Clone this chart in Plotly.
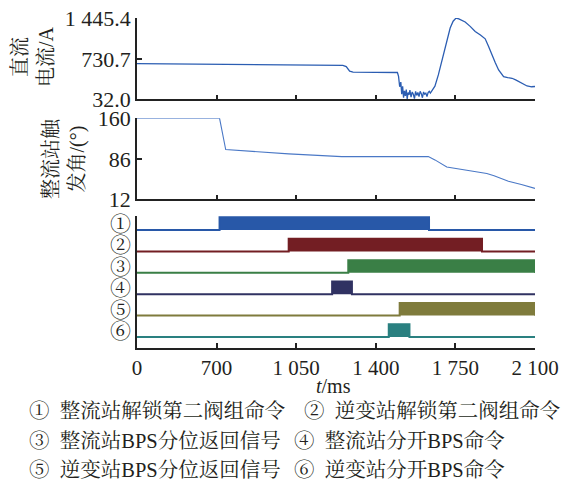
import plotly.graph_objects as go

# ---------------- data ----------------
# DC current (top panel), time in ms, value in A
cur_t = [0, 700, 1050, 1255, 1270, 1285, 1300, 1400, 1495,
         1500, 1505, 1510, 1514, 1518, 1522, 1526, 1530, 1534, 1538, 1542, 1546, 1550,
         1555, 1560, 1565, 1570, 1575, 1580, 1585, 1590, 1595, 1600, 1605, 1610, 1615,
         1620, 1625, 1630, 1635, 1640, 1646,
         1660, 1675, 1690, 1704, 1715, 1727, 1740, 1753, 1765, 1793, 1815, 1837, 1860,
         1881, 1895, 1910, 1925, 1940, 1962, 1980, 1999, 2015, 2028, 2045, 2065, 2085, 2100]
cur_v = [652, 645, 635, 622, 600, 520, 505, 500, 498,
         430, 250, 330, 120, 260, 60, 180, 90, 200, 40, 150, 110, 190,
         70, 160, 120, 45, 170, 100, 150, 80, 170, 130, 60, 160, 120,
         140, 80, 150, 170, 140, 180,
         260, 456, 688, 922, 1100, 1271, 1390, 1445, 1430, 1376, 1300, 1212, 1150,
         1084, 960, 805, 670, 543, 426, 410, 398, 370, 339, 300, 264, 250, 255]

# rectifier firing angle (middle panel), degrees
ang_t = [0, 713, 740, 1017, 1250, 1631, 1660, 1690, 1712, 1800, 1888, 1920, 1983, 2040, 2100]
ang_v = [160, 160, 103, 95, 90, 90, 84, 76, 71, 65, 59, 55, 45, 39, 32]

# signals (bottom panel)
sig_labels = ["①", "②", "③", "④", "⑤", "⑥"]
sig_start = [713, 1017, 1279, 1208, 1505, 1457]
sig_end = [1634, 1867, 2100, 1295, 2100, 1548]
sig_colors = ["#2858a8", "#731e23", "#3a7f46", "#303262", "#7f7b3c", "#2a8080"]

legend_items = ["整流站解锁第二阀组命令", "逆变站解锁第二阀组命令",
                "整流站BPS分位返回信号", "整流站分开BPS命令",
                "逆变站BPS分位返回信号", "逆变站分开BPS命令"]

x_tickvals_ms = [0, 700, 1050, 1400, 1750, 2100]
x_ticktext = ["0", "700", "1 050", "1 400", "1 750", "2 100"]

y1_ticks = [32.0, 730.7, 1445.4]
y1_text = ["32.0", "730.7", "1 445.4"]
y2_ticks = [12, 86, 160]


# the first axis segment (0-700 ms) is drawn at half scale in the original
def T(t):
    return t if t >= 700 else 350 + t / 2.0


FONT = "Liberation Serif, 'Noto Serif CJK SC', 'Noto Sans CJK SC', serif"
TXT = "#231f20"

fig = go.Figure()

fig.add_trace(go.Scatter(x=[T(t) for t in cur_t], y=cur_v, mode="lines",
                         line=dict(color="#2b5db2", width=1.3),
                         xaxis="x", yaxis="y", showlegend=False))
fig.add_trace(go.Scatter(x=[T(t) for t in ang_t], y=ang_v, mode="lines",
                         line=dict(color="#4a78c6", width=1.1),
                         xaxis="x2", yaxis="y2", showlegend=False))

H = 0.59
n = len(sig_labels)
row_base = []
for i in range(n):
    b = n - 1 - i
    row_base.append(b)
    s, e = sig_start[i], sig_end[i]
    xs = [T(0), T(s), T(s), T(e), T(e), T(2100)]
    ys = [b, b, b + H, b + H, b, b]
    fig.add_trace(go.Scatter(x=xs, y=ys, mode="lines", fill="toself",
                             fillcolor=sig_colors[i],
                             line=dict(color=sig_colors[i], width=2),
                             xaxis="x3", yaxis="y3", showlegend=False))

xtv = [T(t) for t in x_tickvals_ms]
xcommon = dict(range=[350, 2100], tickvals=xtv, ticktext=x_ticktext,
               ticks="inside", ticklen=5, tickwidth=1.5, tickcolor="#222",
               showline=True, linecolor="#222", linewidth=1.5,
               showgrid=False, zeroline=False, domain=[0, 1], automargin=False)
ycommon = dict(ticks="inside", ticklen=5, tickwidth=1.5, tickcolor="#222",
               showline=True, linecolor="#222", linewidth=1.5,
               showgrid=False, zeroline=False, automargin=False,
               tickfont=dict(size=22, color=TXT, family=FONT))

fig.update_layout(
    width=566, height=482,
    margin=dict(l=137, r=31, t=18, b=134),
    paper_bgcolor="white", plot_bgcolor="white",
    font=dict(family=FONT, size=20, color=TXT),
    hovermode=False,
    xaxis=dict(**xcommon, anchor="y", showticklabels=False),
    xaxis2=dict(**xcommon, anchor="y2", showticklabels=False),
    xaxis3=dict(**xcommon, anchor="y3", showticklabels=True,
                ticklabeloverflow="allow",
                tickfont=dict(size=21, color=TXT, family=FONT)),
    yaxis=dict(**ycommon, domain=[0.7536, 1.0], range=[32.0, 1445.4],
               tickvals=y1_ticks, ticktext=y1_text, anchor="x"),
    yaxis2=dict(**ycommon, domain=[0.4506, 0.6961], range=[12, 160],
                tickvals=y2_ticks, anchor="x2"),
    yaxis3=dict(showline=True, linecolor="#222", linewidth=1.5, showgrid=False,
                zeroline=False, ticks="", domain=[0, 0.4], automargin=False,
                range=[-0.514, 5.654],
                tickvals=[b + 0.3 for b in row_base], ticktext=sig_labels,
                tickfont=dict(size=21, color=TXT, family=FONT), anchor="x3"),
)


def px_x(px):
    return (px - 137) / 398.0


def px_y(py):
    return (348 - py) / 330.0


ann = []
ann.append(dict(text="直流<br>电流/A", textangle=-90, xref="paper", yref="paper",
                x=px_x(33), y=px_y(56), xanchor="center", yanchor="middle",
                showarrow=False, font=dict(size=20, color=TXT, family=FONT)))
ann.append(dict(text="整流站触<br>发角/(°)", textangle=-90, xref="paper", yref="paper",
                x=px_x(64), y=px_y(159), xanchor="center", yanchor="middle",
                showarrow=False, font=dict(size=20, color=TXT, family=FONT)))
ann.append(dict(text="<i>t</i>/ms", xref="paper", yref="paper",
                x=px_x(333), y=px_y(386), xanchor="center", yanchor="middle",
                showarrow=False, font=dict(size=20, color=TXT, family=FONT)))

leg_x = [27, 302, 27, 292, 27, 292]
leg_y = [411, 411, 441, 441, 470, 470]
for i in range(n):
    ann.append(dict(text=sig_labels[i] + "\u00a0\u00a0" + legend_items[i],
                    xref="paper", yref="paper",
                    x=px_x(leg_x[i]), y=px_y(leg_y[i]),
                    xanchor="left", yanchor="middle", showarrow=False,
                    font=dict(size=20.5, color=TXT, family=FONT)))

fig.update_layout(annotations=ann)

# the page body's default 8px margin would shift the 566x482 figure; remove it
fig.write_html("out.html", config={"displayModeBar": False},
               post_script="document.body.style.margin='0px';")
